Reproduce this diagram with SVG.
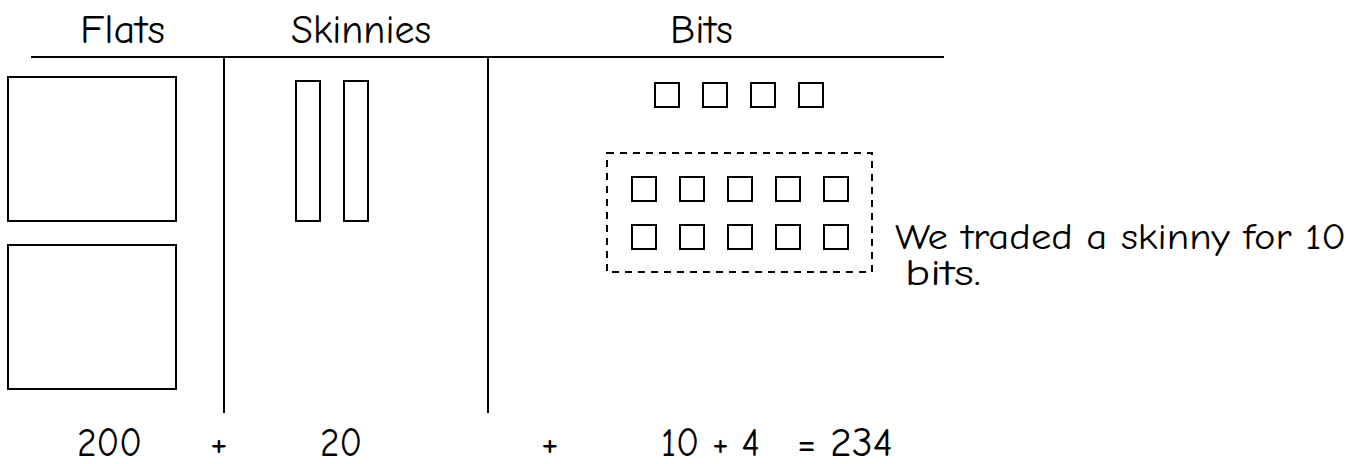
<svg xmlns="http://www.w3.org/2000/svg" width="1353" height="464" viewBox="0 0 1353 464">
<style>
.ln{stroke:#000;stroke-width:2;fill:none}
.bx{stroke:#000;stroke-width:2;fill:none}
.dash{stroke:#000;stroke-width:2;fill:none;stroke-dasharray:7,6}
text{font-family:"Comic Sans MS","Comic Neue","Open Sans","DejaVu Sans",sans-serif;font-size:40px;fill:#000}
.note{font-size:36px}
</style>
<rect width="1353" height="464" fill="#fff"/>
<g id="connectors">
<line class="ln" x1="31" y1="57" x2="944" y2="57"/>
<line class="ln" x1="224" y1="57" x2="224" y2="413"/>
<line class="ln" x1="488" y1="57" x2="488" y2="413"/>
</g>
<g id="headers">
<text x="80" y="43" textLength="85" lengthAdjust="spacingAndGlyphs">Flats</text>
<text x="291" y="43" textLength="140" lengthAdjust="spacingAndGlyphs">Skinnies</text>
<text x="670" y="43" textLength="63" lengthAdjust="spacingAndGlyphs">Bits</text>
</g>
<g id="flat1"><rect class="bx" x="8" y="77" width="168" height="144"/></g>
<g id="flat2"><rect class="bx" x="8" y="245" width="168" height="144"/></g>
<g id="skinny1"><rect class="bx" x="296" y="81" width="24" height="140"/></g>
<g id="skinny2"><rect class="bx" x="344" y="81" width="24" height="140"/></g>
<g id="bits-top">
<rect class="bx" x="655" y="83" width="24" height="24"/>
<rect class="bx" x="703" y="83" width="24" height="24"/>
<rect class="bx" x="751" y="83" width="24" height="24"/>
<rect class="bx" x="799" y="83" width="24" height="24"/>
</g>
<g id="traded-bits">
<rect class="dash" x="607" y="153" width="265" height="119"/>
<rect class="bx" x="632" y="177" width="24" height="24"/>
<rect class="bx" x="680" y="177" width="24" height="24"/>
<rect class="bx" x="728" y="177" width="24" height="24"/>
<rect class="bx" x="776" y="177" width="24" height="24"/>
<rect class="bx" x="824" y="177" width="24" height="24"/>
<rect class="bx" x="632" y="225" width="24" height="24"/>
<rect class="bx" x="680" y="225" width="24" height="24"/>
<rect class="bx" x="728" y="225" width="24" height="24"/>
<rect class="bx" x="776" y="225" width="24" height="24"/>
<rect class="bx" x="824" y="225" width="24" height="24"/>
</g>
<g id="note">
<text class="note" x="895" y="249" textLength="451" lengthAdjust="spacingAndGlyphs">We traded a skinny for 10</text>
<text class="note" x="905" y="285" textLength="76" lengthAdjust="spacingAndGlyphs">bits.</text>
</g>
<g id="sum">
<text x="77" y="456" textLength="65" lengthAdjust="spacingAndGlyphs">200</text>
<text x="210" y="456">+</text>
<text x="320" y="456" textLength="42" lengthAdjust="spacingAndGlyphs">20</text>
<text x="541" y="456">+</text>
<text x="661" y="456" textLength="99" lengthAdjust="spacingAndGlyphs">10 + 4</text>
<text x="797" y="456" textLength="96" lengthAdjust="spacingAndGlyphs">= 234</text>
</g>
</svg>
